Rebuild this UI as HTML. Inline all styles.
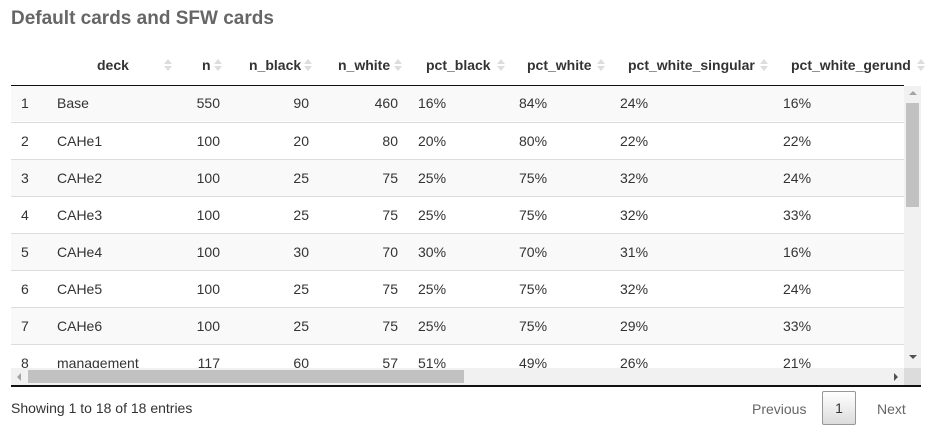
<!DOCTYPE html>
<html><head><meta charset="utf-8"><style>
body{margin:0;width:932px;height:440px;background:#fff;font-family:"Liberation Sans",Arial,sans-serif;font-size:14px;color:#333;position:relative;overflow:hidden}
.a{position:absolute;white-space:nowrap}
.h{font-weight:bold;top:57px;line-height:16px}
.s{position:absolute;top:58px;width:6px;height:14px}
.s:before{content:"";position:absolute;left:0;top:1px;border-left:4px solid transparent;border-right:4px solid transparent;border-bottom:5px solid #ddd}
.s:after{content:"";position:absolute;left:0;top:8px;border-left:4px solid transparent;border-right:4px solid transparent;border-top:5px solid #ddd}
.row{position:absolute;left:11px;width:893px;height:36px;border-top:1px solid #ddd}
.c{position:absolute;line-height:16px}
.r{text-align:right}
</style></head><body>
<div class="a" style="left:11px;top:8px;font-size:19px;font-weight:bold;color:#666;line-height:22px">Default cards and SFW cards</div>

<div>
<div class="a h" style="left:97px">deck</div><div class="s" style="left:164px"></div>
<div class="a h" style="left:202px">n</div><div class="s" style="left:214px"></div>
<div class="a h" style="left:249px">n_black</div><div class="s" style="left:304px"></div>
<div class="a h" style="left:338px">n_white</div><div class="s" style="left:394px"></div>
<div class="a h" style="left:426px">pct_black</div><div class="s" style="left:497px"></div>
<div class="a h" style="left:527px">pct_white</div><div class="s" style="left:597px"></div>
<div class="a h" style="left:628px">pct_white_singular</div><div class="s" style="left:760px"></div>
<div class="a h" style="left:791px">pct_white_gerund</div><div class="s" style="left:917px"></div>
</div>
<div class="a" style="left:11px;top:85px;width:893px;height:1px;background:#111"></div>

<div class="a" style="left:0;top:86px;width:904px;height:282px;overflow:hidden" id="body"></div>

<div class="a" style="left:904px;top:86px;width:17px;height:282px;background:#f1f1f1">
<div style="position:absolute;left:5px;top:5px;border-left:4px solid transparent;border-right:4px solid transparent;border-bottom:4px solid #a3a3a3"></div>
<div style="position:absolute;left:2px;top:17px;width:13px;height:104px;background:#c1c1c1"></div>
<div style="position:absolute;left:5px;top:269px;border-left:4px solid transparent;border-right:4px solid transparent;border-top:4px solid #505050"></div>
</div>
<div class="a" style="left:11px;top:368px;width:893px;height:17px;background:#f1f1f1">
<div style="position:absolute;left:6px;top:5px;border-top:4px solid transparent;border-bottom:4px solid transparent;border-right:4px solid #a3a3a3"></div>
<div style="position:absolute;left:17px;top:2px;width:436px;height:13px;background:#c1c1c1"></div>
<div style="position:absolute;left:883px;top:5px;border-top:4px solid transparent;border-bottom:4px solid transparent;border-left:4px solid #505050"></div>
</div>
<div class="a" style="left:904px;top:368px;width:17px;height:17px;background:#dcdcdc"></div>
<div class="a" style="left:11px;top:385px;width:910px;height:2px;background:#111"></div>

<div class="a" style="left:11px;top:400px;line-height:16px">Showing 1 to 18 of 18 entries</div>
<div class="a" style="left:752px;top:401px;color:#666;line-height:16px">Previous</div>
<div class="a" style="left:822px;top:391px;width:34px;height:34px;border:1px solid #979797;border-radius:2px;background:linear-gradient(#fff,#dcdcdc);box-sizing:border-box;text-align:center;line-height:32px;color:#333">1</div>
<div class="a" style="left:877px;top:401px;color:#666;line-height:16px">Next</div>

<script>
const decks=["Base","CAHe1","CAHe2","CAHe3","CAHe4","CAHe5","CAHe6","management"];
const nVals=[550,100,100,100,100,100,100,117];
const nBlack=[90,20,25,25,30,25,25,60];
const nWhite=[460,80,75,75,70,75,75,57];
const pctBlack=["16%","20%","25%","25%","30%","25%","25%","51%"];
const pctWhite=["84%","80%","75%","75%","70%","75%","75%","49%"];
const pctSing=["24%","22%","32%","32%","31%","32%","29%","26%"];
const pctGer=["16%","22%","24%","33%","16%","24%","33%","21%"];
const body=document.getElementById('body');
decks.forEach((d,i)=>{
  const row=document.createElement('div');
  row.className='row';
  
  
  row.style.top=(i*37-1)+'px';
  row.style.background=i%2===0?'#f9f9f9':'#fff';
  if(i===0)row.style.borderTop='none';
  const cells=[[String(i+1),10,null],[d,46,null],[String(nVals[i]),null,209],[String(nBlack[i]),null,298],[String(nWhite[i]),null,387],[pctBlack[i],407,null],[pctWhite[i],508,null],[pctSing[i],609,null],[pctGer[i],772,null]];
  cells.forEach(c=>{
    const el=document.createElement('div');
    
    
    el.className='c';
    el.style.top='10px';
    el.textContent=c[0];
    if(c[1]!==null)el.style.left=c[1]+'px';
    else{el.style.left=(c[2]-60)+'px';el.style.width='60px';el.classList.add('r');}
    row.appendChild(el);
  });
  body.appendChild(row);
});
</script>
</body></html>
